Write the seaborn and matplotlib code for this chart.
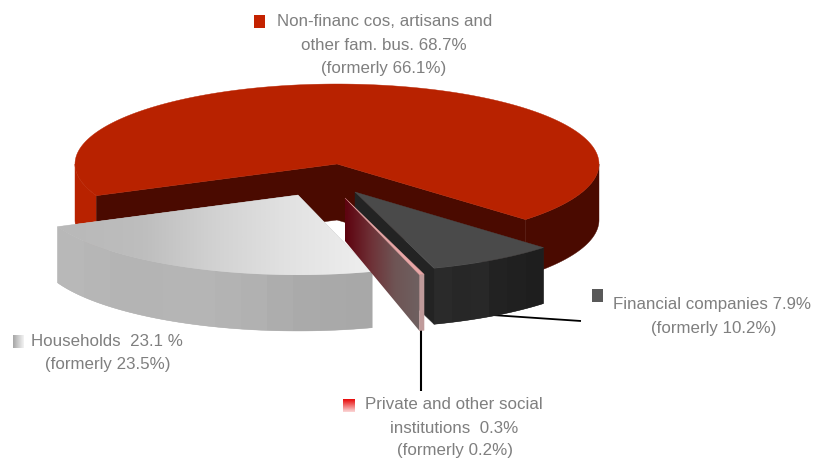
import numpy as np
import matplotlib
matplotlib.use("Agg")
import matplotlib.pyplot as plt
from matplotlib.patches import Polygon, Rectangle
import seaborn as sns

# Portfolio shares, in drawing order counter-clockwise around the pie
sectors = ["nonfin", "households", "private", "financial"]
shares = [68.7, 23.1, 0.3, 7.9]
formerly = [66.1, 23.5, 0.2, 10.2]

# Pie geometry in figure pixels
CX, CY = 337, 165
RX, RY = 262, 80
DEPTH = 56
START_ANGLE = -44
offsets = {"nonfin": (0, 0), "households": (-39, 31), "private": (8, 34), "financial": (18, 28)}

sns.set_theme(style="white")
plt.rcParams["font.family"] = ["Liberation Sans", "DejaVu Sans"]

fig = plt.figure(figsize=(8.15, 4.6), dpi=100, facecolor="white")
ax = fig.add_axes([0, 0, 1, 1])
ax.set_xlim(0, 815)
ax.set_ylim(460, 0)
ax.axis("off")

bounds = START_ANGLE + np.concatenate([[0], np.cumsum(shares)]) * 3.6
angles = {s: (bounds[i], bounds[i + 1]) for i, s in enumerate(sectors)}


def rim(sector, a0, a1, n=80):
    dx, dy = offsets[sector]
    t = np.radians(np.linspace(a0, a1, n))
    return np.column_stack([CX + dx + RX * np.cos(t), CY + dy - RY * np.sin(t)])


def apex(sector):
    dx, dy = offsets[sector]
    return np.array([CX + dx, CY + dy])


def down(pts, depth=DEPTH):
    return pts + np.array([0, depth])


def wall(sector, a0, a1):
    top = rim(sector, a0, a1)
    return np.vstack([top, down(top)[::-1]])


def poly(pts, color, z):
    ax.add_patch(Polygon(pts, closed=True, facecolor=color, edgecolor=color, lw=0.3, zorder=z))


def gradient(pts, colors, x0, x1, y0, y1, z, vertical=False, interp="bilinear"):
    # Colour ramp clipped to a polygon
    clip = Polygon(pts, closed=True, transform=ax.transData, facecolor="none", edgecolor="none")
    ax.add_patch(clip)
    arr = np.array(colors)
    arr = arr[:, None, :] if vertical else arr[None, :, :]
    im = ax.imshow(arr, extent=[x0, x1, y1, y0], aspect="auto", interpolation=interp, zorder=z)
    im.set_clip_path(clip)
    ax.set_xlim(0, 815)
    ax.set_ylim(460, 0)


# Large slice: cut faces, rim walls and top
RED_TOP = "#B82200"
RED_DARK = "#4A0A00"
a0, a1 = angles["nonfin"]
c = apex("nonfin")
poly(wall("nonfin", a0, 0), RED_DARK, 1)
poly(wall("nonfin", 180, a1), RED_TOP, 1)
for edge in (a0, a1):
    p = rim("nonfin", edge, edge, 1)[0]
    poly([c, p, down(p), down(c)], RED_DARK, 2)
poly(np.vstack([c, rim("nonfin", a0, a1, 200)]), RED_TOP, 3)

# Households slice
a0, a1 = angles["households"]
h_wall = wall("households", a0, a1)
h_top = np.vstack([apex("households"), rim("households", a0, a1)])
poly(h_wall, "#B4B4B4", 3.5)
poly(h_top, "#C8C8C8", 3.6)
wall_ramp = sns.blend_palette(["#B8B8B8", "#B4B4B4", "#B6B6B6", "#B3B3B3", "#ABABAB", "#A8A8A8"], 12)
gradient(h_wall, wall_ramp, 58, 372, 220, 340, 4, interp="nearest")
top_ramp = sns.blend_palette(["#B9B9B9", "#BDBDBD", "#D2D2D2", "#E2E2E2", "#EDEDED"], 16)
gradient(h_top, top_ramp, 58, 372, 180, 290, 5)

# Financial slice
a0, a1 = angles["financial"]
f_apex = apex("financial")
front = rim("financial", a0, a0, 1)[0]
poly([f_apex, front, down(front), down(f_apex)], "#232323", 6)
f_wall = wall("financial", a0, a1)
poly(f_wall, "#242424", 6.5)
dark_ramp = sns.blend_palette(["#2A2A2A", "#272727", "#282828", "#222222", "#202020", "#1E1E1E"], 6)
back = rim("financial", a1, a1, 1)[0]
gradient(f_wall, dark_ramp, front[0], back[0], 235, 340, 7, interp="nearest")
poly(np.vstack([f_apex, rim("financial", a0, a1)]), "#4A4A4A", 8)

# Thin slice for social institutions
a0, a1 = angles["private"]
p_apex = apex("private")
left = rim("private", a0, a0, 1)[0]
face = [p_apex, left, down(left), down(p_apex, 43)]
gradient(face, sns.blend_palette(["#5E0410", "#6E3036", "#6E5454", "#6F6060"], 24),
         p_apex[0], left[0], 190, 340, 9)
poly(wall("private", a0, a1), "#BF9A9A", 10)
poly(np.vstack([p_apex, rim("private", a0, a1, 6)]), "#E8A6A6", 11)

# Leader lines
ax.plot([492, 581], [316, 322], color="black", lw=1.3, solid_capstyle="butt", zorder=3)
ax.plot([421, 421], [329, 392], color="black", lw=1.5, solid_capstyle="butt", zorder=3)

# Legend swatches
ax.add_patch(Rectangle((254, 16), 11, 13, facecolor="#C42200", edgecolor="none", zorder=12))
ax.add_patch(Rectangle((592, 290), 11, 13, facecolor="#595959", edgecolor="none", zorder=12))
gradient([(13, 336), (24, 336), (24, 349), (13, 349)],
         sns.blend_palette(["#A9A9A9", "#F0F0F0"], 10), 13, 24, 336, 349, 12)
gradient([(343, 400), (355, 400), (355, 413), (343, 413)],
         sns.blend_palette(["#E81010", "#FAD0D0"], 10), 343, 355, 400, 413, 12, vertical=True)

# Labels, one line at a time
TEXT = "#7F7F7F"
FS = 12.2
lines = [
    (385, 21, "Non-financ cos, artisans and"),
    (384, 45, f"other fam. bus. {shares[0]}%"),
    (384, 68, f"(formerly {formerly[0]}%)"),
    (107, 342, f"Households  {shares[1]} %"),
    (108, 365, f"(formerly {formerly[1]}%)"),
    (712, 305, f"Financial companies {shares[3]}%"),
    (714, 329, f"(formerly {formerly[3]}%)"),
    (454, 405, "Private and other social"),
    (454, 429, f"institutions  {shares[2]}%"),
    (455, 451, f"(formerly {formerly[2]}%)"),
]
for x, y, s in lines:
    ax.text(x, y, s, ha="center", va="center", fontsize=FS, color=TEXT, zorder=13)

fig.savefig("out.png", dpi=100, facecolor="white")
